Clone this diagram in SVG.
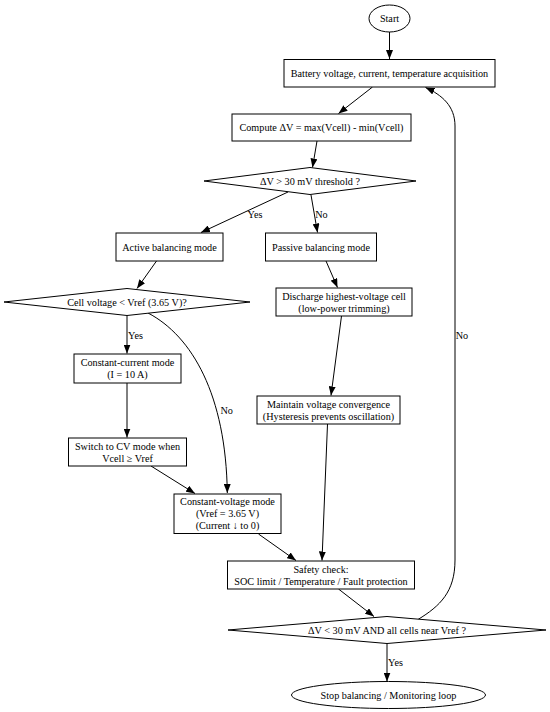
<svg xmlns="http://www.w3.org/2000/svg" width="550" height="712" viewBox="0 0 550 712">
<style>
.n{fill:#fff;stroke:#000;stroke-width:1}
.t{font-family:"Liberation Serif","Times New Roman",serif;font-size:10.2px;fill:#000;text-anchor:middle}
.e{fill:none;stroke:#000;stroke-width:1;marker-end:url(#ah)}
</style>
<defs>
<marker id="ah" markerUnits="userSpaceOnUse" markerWidth="9" markerHeight="7" viewBox="0 0 9 7" refX="9" refY="3.5" orient="auto">
<path d="M0,0 L9,3.5 L0,7 z" fill="#000"/>
</marker>
</defs>
<rect width="550" height="712" fill="#fff"/>
<g id="connectors">
<path class="e" d="M389.5,32 L389.5,59"/>
<path class="e" d="M372.5,87 L338.5,113.5"/>
<path class="e" d="M317,141 L312.5,167.5"/>
<path class="e" d="M288,192 L201,232.5"/>
<path class="e" d="M311,195 L317.5,232.5"/>
<path class="e" d="M156.5,261 L137,288.5"/>
<path class="e" d="M326,261 L337.5,287.5"/>
<path class="e" d="M341.5,316 L331,395.5"/>
<path class="e" d="M127,315.5 L127,353.5"/>
<path class="e" d="M148,313 C192,336 226,395 227.3,493"/>
<path class="e" d="M127,383 L127,437.5"/>
<path class="e" d="M151,466 L195,493.5"/>
<path class="e" d="M258.5,534 L296,560.5"/>
<path class="e" d="M327.5,424 L322,560.5"/>
<path class="e" d="M338.5,589 L374,616.5"/>
<path class="e" d="M387,643.5 L387,681.5"/>
<path class="e" d="M418,619.5 C440,606 455,592 455,560 L455,126 C455,106 442,95 425.5,87.5"/>
<text class="t" x="255" y="217.5">Yes</text>
<text class="t" x="321.5" y="217.5">No</text>
<text class="t" x="135.5" y="338.5">Yes</text>
<text class="t" x="226.7" y="413.5">No</text>
<text class="t" x="462" y="338.5">No</text>
<text class="t" x="395.5" y="666">Yes</text>
</g>
<g id="start"><ellipse class="n" cx="389.5" cy="18.5" rx="20.5" ry="13.5"/><text class="t" x="389.5" y="22">Start</text></g>
<g id="acquire"><rect class="n" x="284" y="59.5" width="211" height="27.5"/><text class="t" x="389.5" y="76.5">Battery voltage, current, temperature acquisition</text></g>
<g id="compute"><rect class="n" x="232" y="114" width="179" height="27"/><text class="t" x="321.5" y="131">Compute ΔV = max(Vcell) - min(Vcell)</text></g>
<g id="threshold"><polygon class="n" points="310,167.5 416,181 310,194.5 204,181"/><text class="t" x="310" y="184.5">ΔV &gt; 30 mV threshold ?</text></g>
<g id="active"><rect class="n" x="116" y="233" width="107" height="28"/><text class="t" x="169.5" y="250.5">Active balancing mode</text></g>
<g id="passive"><rect class="n" x="265.5" y="233" width="111" height="28"/><text class="t" x="321" y="250.5">Passive balancing mode</text></g>
<g id="celldec"><polygon class="n" points="127,288.5 250,302 127,315.5 4,302"/><text class="t" x="127" y="305.5">Cell voltage &lt; Vref (3.65 V)?</text></g>
<g id="discharge"><rect class="n" x="276" y="288" width="136" height="28"/><text class="t" x="344" y="299.5">Discharge highest-voltage cell</text><text class="t" x="344" y="311.5">(low-power trimming)</text></g>
<g id="cc"><rect class="n" x="74" y="354" width="107" height="29"/><text class="t" x="127.5" y="366">Constant-current mode</text><text class="t" x="127.5" y="378">(I = 10 A)</text></g>
<g id="maintain"><rect class="n" x="257" y="396" width="143" height="28"/><text class="t" x="328.5" y="407.5">Maintain voltage convergence</text><text class="t" x="328.5" y="419.5">(Hysteresis prevents oscillation)</text></g>
<g id="switch"><rect class="n" x="68.5" y="438" width="118" height="28"/><text class="t" x="127.5" y="449.5">Switch to CV mode when</text><text class="t" x="127.5" y="461.5">Vcell ≥ Vref</text></g>
<g id="cv"><rect class="n" x="174" y="494" width="107" height="39.5"/><text class="t" x="227.5" y="505">Constant-voltage mode</text><text class="t" x="227.5" y="517">(Vref = 3.65 V)</text><text class="t" x="227.5" y="529">(Current ↓ to 0)</text></g>
<g id="safety"><rect class="n" x="227.5" y="561" width="187" height="28"/><text class="t" x="321" y="572.5">Safety check:</text><text class="t" x="321" y="584.5">SOC limit / Temperature / Fault protection</text></g>
<g id="final"><polygon class="n" points="387,616.5 546,630 387,643.5 228,630"/><text class="t" x="387" y="633.5">ΔV &lt; 30 mV AND all cells near Vref ?</text></g>
<g id="stop"><ellipse class="n" cx="388.5" cy="695" rx="97" ry="13.5"/><text class="t" x="388.5" y="698.5">Stop balancing / Monitoring loop</text></g>
</svg>
